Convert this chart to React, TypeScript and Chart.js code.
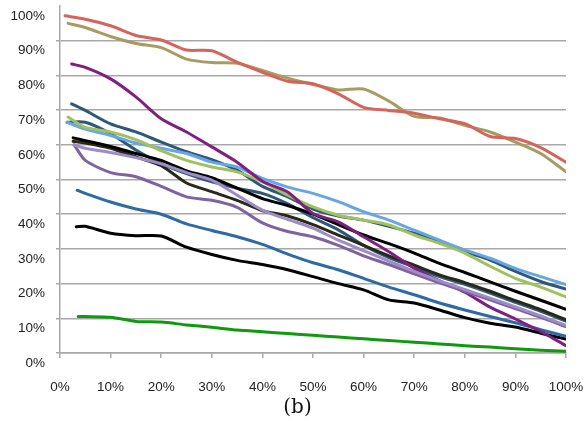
import React, { useEffect, useRef } from "react";
import { Chart, registerables } from "chart.js";

Chart.register(...registerables);

// x positions (percent) after each series' own starting point
const xSteps = [5, 10, 15, 20, 25, 30, 35, 40, 45, 50, 55, 60, 65, 70, 75, 80, 85, 90, 95, 100];

// y values (percent): first value sits at the series' start x, the rest at xSteps
const red = [97.2, 96.2, 94.3, 91.5, 90.2, 87.3, 87.1, 83.8, 80.9, 78.3, 77.6, 74.7, 70.8, 69.9, 69.1, 67.5, 66.1, 62.4, 61.8, 59.2, 55.0];
const khaki = [95.0, 93.8, 91.2, 89.2, 88.0, 84.7, 83.7, 83.5, 81.4, 79.2, 77.4, 75.8, 76.1, 72.6, 68.2, 67.7, 65.6, 63.7, 60.8, 57.5, 52.2];
const magenta = [83.3, 82.3, 79.0, 73.8, 67.5, 63.7, 59.4, 55.0, 49.5, 46.4, 40.2, 37.8, 33.5, 29.2, 24.4, 20.8, 17.5, 13.2, 9.8, 6.2, 2.1];
const lightBlue = [66.5, 64.5, 62.7, 60.5, 59.0, 57.5, 55.0, 53.6, 50.3, 47.8, 46.0, 43.6, 40.7, 38.3, 35.4, 32.5, 29.7, 27.3, 24.4, 22.0, 19.7];
const lightGreen = [68.0, 65.0, 63.7, 61.5, 58.3, 55.5, 53.6, 52.2, 49.3, 45.5, 42.1, 39.7, 38.3, 36.9, 34.0, 31.6, 28.8, 25.0, 21.5, 19.0, 16.2];
const slateA = [71.8, 69.9, 66.0, 63.7, 60.8, 58.0, 55.7, 52.7, 48.0, 45.0, 41.5, 39.5, 38.3, 36.5, 34.5, 32.0, 29.2, 26.8, 23.5, 20.6, 18.4];
const black1 = [62.0, 61.2, 59.5, 57.5, 55.5, 52.5, 50.5, 47.5, 44.5, 42.5, 40.0, 37.0, 34.0, 31.5, 28.8, 25.8, 23.2, 20.5, 17.8, 15.2, 12.6];
const oliveBlack = [61.0, 60.5, 59.0, 56.5, 54.0, 49.0, 46.5, 44.0, 41.0, 39.5, 37.0, 34.0, 31.0, 28.0, 25.3, 22.5, 20.3, 17.8, 15.1, 12.5, 9.6];
const slateB = [66.5, 66.5, 63.2, 58.5, 54.6, 51.7, 49.3, 47.5, 46.0, 43.0, 39.0, 35.5, 31.0, 27.5, 24.8, 22.0, 19.8, 17.3, 14.6, 12.0, 9.2];
const lightPurple = [60.0, 59.0, 57.8, 56.3, 54.5, 52.0, 49.8, 45.5, 41.2, 38.5, 36.0, 32.5, 29.5, 26.5, 23.5, 20.8, 18.3, 15.8, 13.3, 10.7, 8.0];
const medPurple = [60.0, 55.5, 52.0, 50.8, 48.0, 45.0, 44.0, 42.0, 37.5, 35.0, 33.5, 31.0, 28.0, 25.5, 22.8, 20.2, 17.8, 15.3, 12.8, 10.3, 7.6];
const medBlue = [46.9, 46.0, 43.5, 41.5, 40.0, 37.2, 35.3, 33.5, 31.3, 28.5, 26.0, 24.0, 21.5, 19.0, 16.8, 14.4, 12.4, 10.5, 8.7, 6.7, 4.8];
const black2 = [36.4, 36.5, 34.5, 33.8, 33.7, 30.5, 28.4, 26.7, 25.5, 24.0, 22.0, 20.0, 18.2, 15.3, 14.4, 12.4, 10.2, 8.6, 7.5, 5.7, 4.0];
const green = [10.5, 10.5, 10.3, 9.1, 8.9, 8.1, 7.4, 6.6, 6.1, 5.6, 5.1, 4.6, 4.1, 3.6, 3.1, 2.6, 2.1, 1.7, 1.2, 0.8, 0.5];

// starting x (percent) of each series, same order as seriesList
const startX = [1.0, 1.6, 2.3, 1.4, 1.6, 2.3, 2.6, 2.6, 1.4, 2.8, 2.8, 3.4, 3.2, 3.6];
const seriesList = [red, khaki, magenta, lightBlue, lightGreen, slateA, black1, oliveBlack, slateB, lightPurple, medPurple, medBlue, black2, green];
const seriesColors = ["#d6645b", "#a69c62", "#7f1f80", "#68a6e3", "#a0c25e", "#2e5877", "#000000", "#29291b", "#2e5877", "#9e8cc6", "#7d63a0", "#2e6aa6", "#000000", "#0e990e"];
// drawing order (lower = drawn on top)
const drawOrder = [0, 1, 4, 6, 5, 7, 8, 9, 10, 2, 3, 11, 12, 13];

const yTicks = [0, 10, 20, 30, 40, 50, 60, 70, 80, 90, 100];
const xTicks = [0, 10, 20, 30, 40, 50, 60, 70, 80, 90, 100];

const GRID = "#a8a8a8";
const FONT = { family: "'Liberation Sans', Arial, sans-serif", size: 13.5 };

export default function App() {
  const ref = useRef<HTMLCanvasElement | null>(null);

  useEffect(() => {
    if (!ref.current) return;
    const datasets = seriesList.map((vals, s) => ({
      label: "s" + s,
      data: vals.map((v, i) => ({ x: i === 0 ? startX[s] : xSteps[i - 1], y: v })),
      borderColor: seriesColors[s],
      backgroundColor: seriesColors[s],
      borderWidth: 3,
      pointRadius: 0,
      tension: 0.25,
      borderCapStyle: "round" as const,
      borderJoinStyle: "round" as const,
      fill: false,
      order: drawOrder[s],
    }));

    const chart = new Chart(ref.current, {
      type: "line",
      data: { datasets },
      options: {
        responsive: false,
        animation: false,
        layout: { padding: { top: 6, right: 18, bottom: 0, left: 0 } },
        plugins: { legend: { display: false }, tooltip: { enabled: false } },
        scales: {
          x: {
            type: "linear",
            min: 0,
            max: 100,
            afterBuildTicks: (scale: any) => {
              scale.ticks = xTicks.map((v) => ({ value: v }));
            },
            afterFit: (scale: any) => {
              scale.height = 68;
              scale.paddingLeft = 0;
              scale.paddingRight = 0;
            },
            ticks: {
              callback: (v: any) => v + "%",
              font: FONT,
              color: "#222",
              padding: 21,
              maxRotation: 0,
              autoSkip: false,
            },
            grid: {
              drawOnChartArea: false,
              drawTicks: true,
              tickLength: 5,
              color: GRID,
              lineWidth: 1.5,
            },
            border: { display: true, color: GRID, width: 1.5 },
          },
          y: {
            min: 0,
            max: 100,
            afterBuildTicks: (scale: any) => {
              scale.ticks = yTicks.map((v) => ({ value: v }));
            },
            afterFit: (scale: any) => {
              scale.width = 60;
              scale.paddingTop = 0;
              scale.paddingBottom = 0;
            },
            ticks: {
              callback: (v: any) => v + "%",
              font: FONT,
              color: "#222",
              padding: 11,
              labelOffset: 10,
              autoSkip: false,
            },
            grid: {
              color: (ctx: any) => (ctx.tick && ctx.tick.value === 100 ? "rgba(0,0,0,0)" : GRID),
              lineWidth: 1.5,
              tickLength: 4,
              drawTicks: true,
            },
            border: { display: true, color: GRID, width: 1.5 },
          },
        },
      },
    });
    return () => chart.destroy();
  }, []);

  return (
    <div style={{ position: "absolute", left: 0, top: 0, width: 584, height: 421, background: "#fff" }}>
      <canvas ref={ref} width={584} height={421} style={{ position: "absolute", left: 0, top: 0, width: 584, height: 421 }} />
      <div
        style={{
          position: "absolute",
          left: 0,
          top: 396,
          width: 595,
          textAlign: "center",
          fontFamily: "'DejaVu Serif', serif",
          fontSize: 20,
          lineHeight: "20px",
          color: "#111",
        }}
      >
        (b)
      </div>
    </div>
  );
}
